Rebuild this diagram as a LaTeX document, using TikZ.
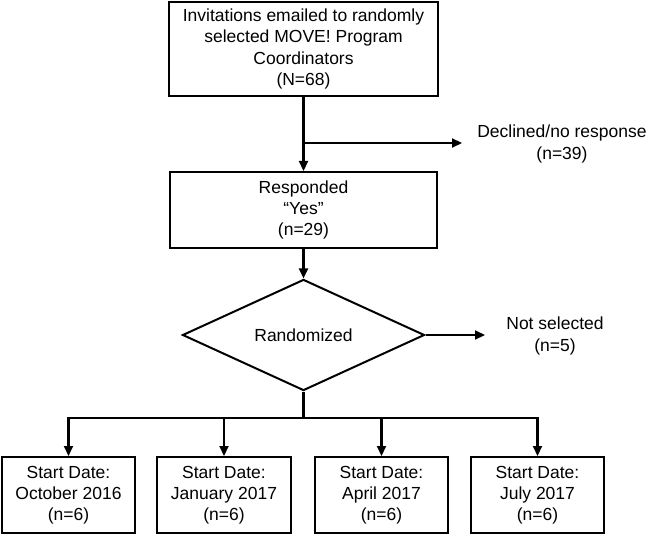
\documentclass[tikz,border=0pt]{standalone}
\usepackage{fontspec}
\setmainfont{Liberation Sans}
\usetikzlibrary{arrows.meta,shapes.geometric}
\begin{document}
\begin{tikzpicture}[x=1pt,y=-1pt,
  every node/.style={font=\fontsize{17.5}{21.3}\selectfont, align=center},
  box/.style={draw, line width=2pt, inner sep=0pt},
  arr/.style={line width=2.2pt, -{Triangle[length=10pt,width=9pt]}},
  ln/.style={line width=2.2pt}]
\useasboundingbox (0,0) rectangle (649,535);
\node[box, minimum width=269, minimum height=94] (top) at (303.5,49)
  {Invitations emailed to randomly\\selected MOVE! Program\\Coordinators\\(N=68)};
\node[box, minimum width=267, minimum height=76] (resp) at (303.5,210)
  {Responded\\“Yes”\\(n=29)};
\node[draw, line width=2pt, diamond, inner sep=0pt, minimum width=242, minimum height=86] (dia) at (303.5,335) {Randomized};
\node (decl) at (562,144) {Declined/no response\\(n=39)};
\node (nots) at (555,336) {Not selected\\(n=5)};
\node[box, minimum width=133, minimum height=76] (b1) at (68.5,495) {Start Date:\\October 2016\\(n=6)};
\node[box, minimum width=134, minimum height=76] (b2) at (224,495) {Start Date:\\January 2017\\(n=6)};
\node[box, minimum width=133, minimum height=76] (b3) at (381.5,495) {Start Date:\\April 2017\\(n=6)};
\node[box, minimum width=133, minimum height=76] (b4) at (537.5,495) {Start Date:\\July 2017\\(n=6)};
\coordinate (br) at (303.5,143);
\coordinate (declend) at (462,143);
\coordinate (notsend) at (485,335);
\coordinate (bar) at (303.5,418);
\draw[arr] (top.south) -- (resp.north);
\draw[arr] (br) -- (declend);
\draw[arr] (resp.south) -- (dia.north);
\draw[arr] (dia.east) -- (notsend);
\draw[ln] (dia.south) -- (bar);
\draw[arr] (bar) -| (b1.north);
\draw[arr] (bar) -| (b2.north);
\draw[arr] (bar) -| (b3.north);
\draw[arr] (bar) -| (b4.north);
\end{tikzpicture}
\end{document}
